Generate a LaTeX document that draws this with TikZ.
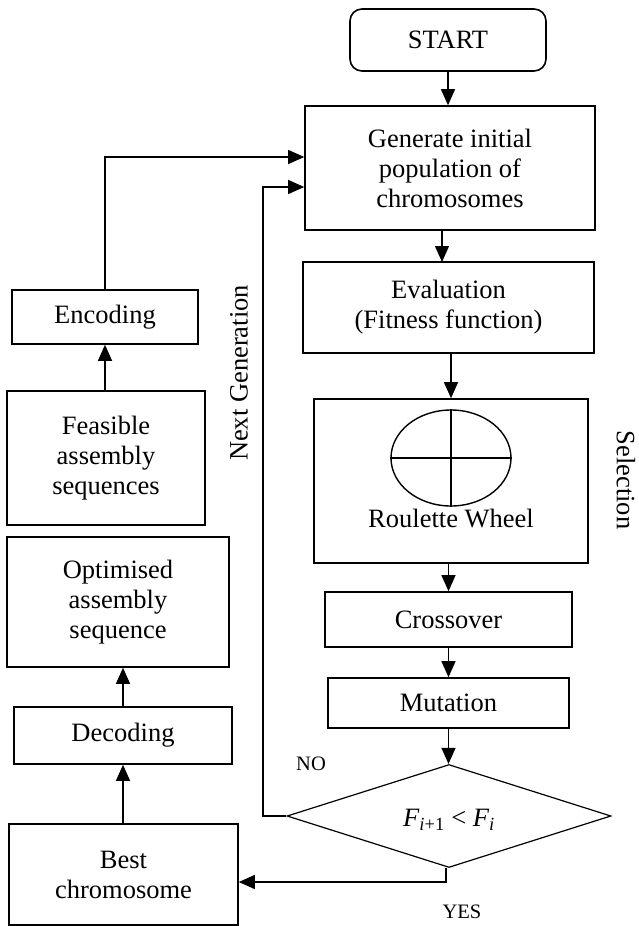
\documentclass[tikz,border=0pt]{standalone}
\usepackage{fontspec}
\setmainfont{Liberation Serif}
\usetikzlibrary{shapes.geometric,arrows.meta}
\begin{document}
\begin{tikzpicture}[x=1pt,y=-1pt,
  font=\fontsize{26.5}{30}\selectfont,
  box/.style={draw,line width=1.6pt,align=center,inner sep=0pt,anchor=center},
  arr/.style={line width=1.2pt,-{Triangle[length=16pt,width=14pt]}},
  small/.style={font=\fontsize{20.5}{24}\selectfont}]
\useasboundingbox (0,0) rectangle (638,926);
% right column
\node[box,rounded corners=12pt,minimum width=196pt,minimum height=62pt] (start) at (448,40) {START};
\node[box,minimum width=290pt,minimum height=124pt] (gen) at (450,168) {Generate initial\\population of\\chromosomes};
\node[box,minimum width=291pt,minimum height=91pt] (eval) at (448.5,307.5) {Evaluation\\(Fitness function)};
\node[box,minimum width=274pt,minimum height=164pt] (roul) at (451,481) {};
\node[draw,line width=1.4pt,shape=ellipse,minimum width=120pt,minimum height=96pt,inner sep=0pt] (wheel) at (451,458) {};
\draw[line width=1.4pt] (wheel.west) -- (wheel.east);
\draw[line width=1.4pt] (wheel.north) -- (wheel.south);
\node (rwtext) at (451,518) {Roulette Wheel};
\node[box,minimum width=247pt,minimum height=55pt] (cross) at (448.5,619.5) {Crossover};
\node[box,minimum width=241pt,minimum height=50pt] (mut) at (448.5,703) {Mutation};
\node[draw,line width=1.2pt,shape=diamond,aspect=3,inner sep=0pt,minimum width=324pt,minimum height=103pt] (dia) at (449,816) {};
\node (ftext) at (449,820) {{\itshape F}\textsubscript{\itshape i\upshape +1} < {\itshape F}\textsubscript{\itshape i}};
% left column
\node[box,minimum width=186pt,minimum height=54pt] (enc) at (105,317) {Encoding};
\node[box,minimum width=198pt,minimum height=134pt] (feas) at (106,458) {Feasible\\assembly\\sequences};
\node[box,minimum width=222pt,minimum height=130pt] (opt) at (118,602) {Optimised\\assembly\\sequence};
\node[box,minimum width=218pt,minimum height=57pt] (dec) at (123,735.5) {Decoding};
\node[box,minimum width=229pt,minimum height=101pt] (best) at (123.5,874.5) {Best\\chromosome};
% labels
\node[rotate=90] (nextgen) at (239,373) {Next Generation};
\node[rotate=-90] (sel) at (626,480) {Selection};
\node[small] (no) at (311,764) {NO};
\node[small] (yes) at (462,912) {YES};
% connectors
\coordinate (ec) at (105,157);
\coordinate (ng) at (263,187);
\coordinate (yc) at (446,882);
\draw[arr] (start.south) -- (gen.north -| start.south);
\draw[arr] (442,230) -- (442,262);
\draw[arr] (eval.south -| roul.north) -- (roul.north);
\draw[arr] (roul.south -| cross.north) -- (cross.north);
\draw[arr] (cross.south) -- (mut.north);
\draw[arr] (mut.south) -- (dia.north -| mut.south);
\draw[arr] (dia.south -| yc) -- (yc) -- (yc -| best.east);
\draw[arr] (dia.west) -| (ng) -- (ng -| gen.west);
\draw[arr] (enc.north) -- (ec) -- (ec -| gen.west);
\draw[arr] (feas.north -| enc.north) -- (enc.south);
\draw[arr] (best.north -| dec.north) -- (dec.south);
\draw[arr] (dec.north) -- (opt.south -| dec.north);
\end{tikzpicture}
\end{document}
